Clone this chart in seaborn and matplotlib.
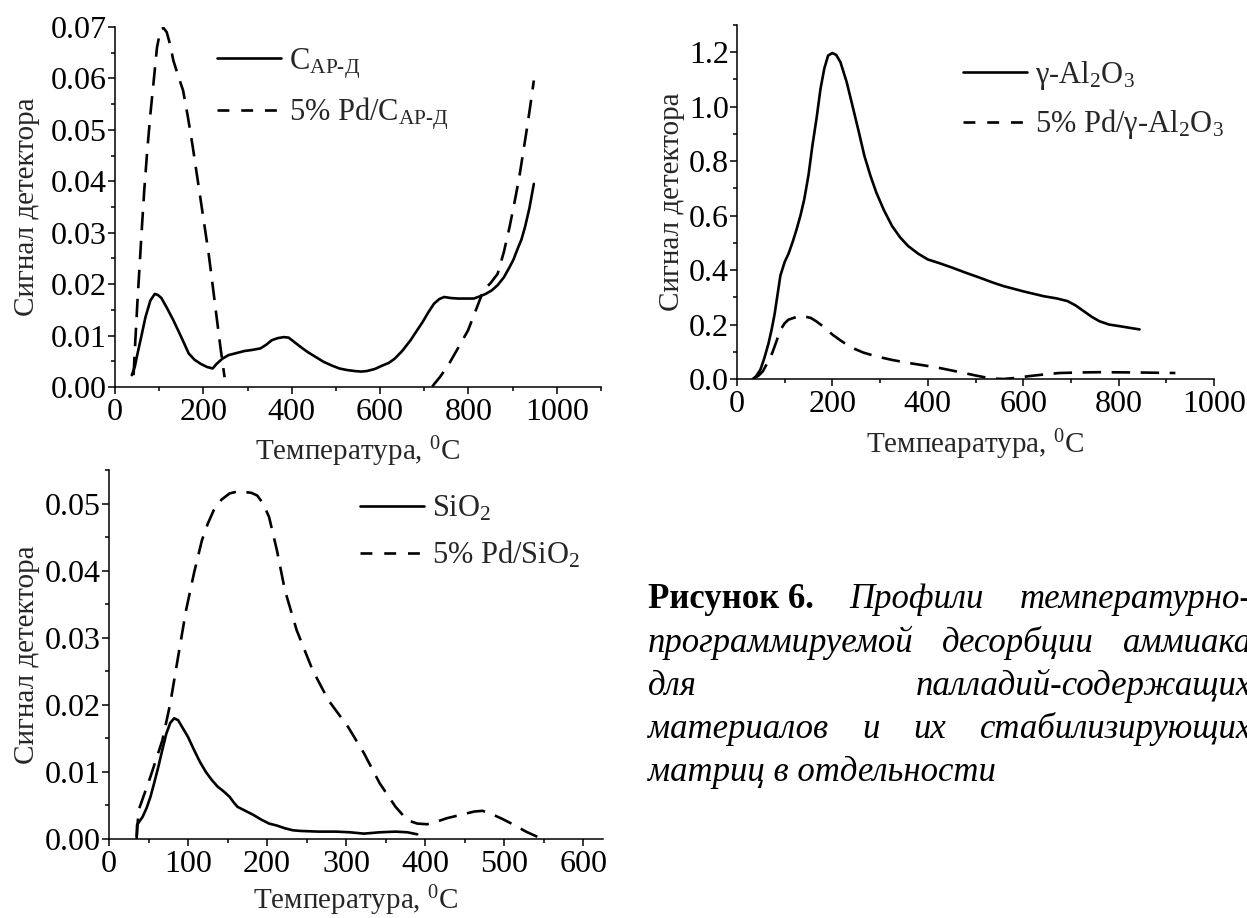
import numpy as np
import pandas as pd
import matplotlib
matplotlib.use("Agg")
import matplotlib.pyplot as plt
import seaborn as sns
from matplotlib.lines import Line2D
from matplotlib.ticker import MultipleLocator, FormatStrFormatter

# ---------------- data ----------------
# Panel 1: C_AP-D and 5% Pd/C_AP-D
c_x = [38, 45, 51, 60, 69, 80, 90, 97, 105, 118, 132, 150, 167, 180, 194, 208, 221,
       230, 243, 257, 275, 293, 310, 329, 342, 355, 368, 382, 393, 405, 420, 436,
       455, 472, 490, 508, 525, 543, 557, 570, 588, 606, 620, 633, 650, 669, 682,
       696, 709, 722, 734, 745, 760, 776, 795, 812, 825, 839, 853, 866, 880, 893,
       902, 910, 920, 928, 938, 948]
c_y = [0.0023, 0.0040, 0.0065, 0.0100, 0.0136, 0.0168, 0.0181, 0.0179, 0.0173,
       0.0153, 0.0130, 0.0097, 0.0065, 0.0053, 0.0045, 0.0039, 0.0036, 0.0045,
       0.0055, 0.0062, 0.0066, 0.0070, 0.0072, 0.0075, 0.0082, 0.0091, 0.0095,
       0.0097, 0.0096, 0.0088, 0.0078, 0.0068, 0.0058, 0.0049, 0.0042, 0.0036,
       0.0033, 0.0031, 0.0030, 0.0031, 0.0035, 0.0042, 0.0047, 0.0055, 0.0070,
       0.0091, 0.0108, 0.0126, 0.0145, 0.0162, 0.0171, 0.0175, 0.0173, 0.0172,
       0.0172, 0.0172, 0.0176, 0.0181, 0.0188, 0.0198, 0.0213, 0.0233, 0.0248,
       0.0266, 0.0287, 0.0311, 0.0348, 0.0395]
pdc1_x = [42, 46, 51, 56, 60, 66, 73, 80, 87, 95, 103, 110, 117, 125, 132, 143, 154,
          165, 176, 185, 194, 203, 212, 221, 230, 239, 248]
pdc1_y = [0.0023, 0.0090, 0.0169, 0.0240, 0.0298, 0.0380, 0.0460, 0.0530, 0.0590,
          0.0660, 0.0695, 0.0698, 0.0690, 0.0665, 0.0635, 0.0605, 0.0577, 0.0525,
          0.0467, 0.0415, 0.0363, 0.0311, 0.0259, 0.0198, 0.0136, 0.0075, 0.0019]
pdc2_x = [718, 736, 754, 776, 799, 817, 834, 850, 866, 880, 893, 904, 915, 924, 933,
          941, 948]
pdc2_y = [0.0001, 0.0020, 0.0042, 0.0075, 0.0110, 0.0150, 0.0188, 0.0202, 0.0220,
          0.0262, 0.0311, 0.0358, 0.0408, 0.0457, 0.0506, 0.0553, 0.0596]

# Panel 2: gamma-Al2O3 and 5% Pd/gamma-Al2O3
al_x = [33, 40, 49, 57, 66, 73, 79, 85, 91, 100, 108, 117, 125, 133, 141, 150, 158,
        167, 175, 183, 191, 200, 208, 217, 230, 242, 255, 267, 280, 292, 308, 325,
        342, 359, 380, 400, 425, 451, 480, 509, 535, 559, 600, 643, 670, 693, 710,
        727, 744, 760, 780, 802, 823, 844]
al_y = [0.0, 0.010, 0.034, 0.075, 0.130, 0.185, 0.240, 0.310, 0.380, 0.430, 0.460,
        0.505, 0.550, 0.600, 0.660, 0.750, 0.856, 0.960, 1.065, 1.140, 1.188, 1.197,
        1.190, 1.163, 1.090, 1.004, 0.910, 0.820, 0.745, 0.685, 0.620, 0.562, 0.520,
        0.488, 0.460, 0.439, 0.425, 0.409, 0.390, 0.372, 0.355, 0.341, 0.322, 0.304,
        0.296, 0.286, 0.270, 0.249, 0.228, 0.212, 0.200, 0.194, 0.188, 0.182]
pdal_x = [37, 45, 54, 64, 74, 83, 91, 100, 108, 125, 141, 155, 166, 183, 200, 220,
          242, 265, 292, 325, 359, 392, 426, 451, 476, 500, 526, 545, 559, 585, 610,
          640, 676, 720, 760, 840, 919]
pdal_y = [0.004, 0.012, 0.028, 0.060, 0.096, 0.140, 0.180, 0.205, 0.218, 0.228,
          0.230, 0.224, 0.212, 0.190, 0.163, 0.138, 0.114, 0.097, 0.083, 0.070,
          0.059, 0.050, 0.040, 0.031, 0.022, 0.013, 0.004, 0.001, 0.0, 0.004, 0.010,
          0.016, 0.022, 0.024, 0.025, 0.024, 0.022]

# Panel 3: SiO2 and 5% Pd/SiO2
si_x = [35, 35.5, 42.5, 47.5, 52.5, 57.5, 62.5, 67.5, 72.5, 77.5, 82.5, 87.5, 92.5,
        100, 107.5, 115, 122.5, 130, 137.5, 145, 152.5, 157.5, 162.5, 172.5, 182.5,
        192.5, 202.5, 212.5, 222.5, 232.5, 242.5, 265, 287.5, 305, 322.5, 342.5,
        362.5, 377.5, 390]
si_y = [0.0, 0.0021, 0.0033, 0.0046, 0.0063, 0.0085, 0.0108, 0.0133, 0.0157, 0.0173,
        0.0180, 0.0177, 0.0167, 0.0152, 0.0133, 0.0115, 0.0100, 0.0088, 0.0078,
        0.0071, 0.0063, 0.0055, 0.0048, 0.0042, 0.0036, 0.0029, 0.0023, 0.0020,
        0.0016, 0.0013, 0.0012, 0.0011, 0.0011, 0.0010, 0.0008, 0.0010, 0.0011,
        0.0010, 0.0007]
pdsi_x = [35, 37.5, 45, 52.5, 60, 67.5, 77.5, 87.5, 97.5, 107.5, 117.5, 125, 132.5,
          142.5, 152.5, 162.5, 172.5, 180, 187.5, 195, 202.5, 212.5, 222.5, 237.5,
          257.5, 277.5, 302.5, 322.5, 342.5, 362.5, 377.5, 390, 402.5, 415, 427.5,
          445, 462.5, 472.5, 482.5, 497.5, 512.5, 527.5, 542.5]
pdsi_y = [0.0003, 0.0043, 0.0068, 0.0093, 0.0120, 0.0147, 0.0202, 0.0272, 0.0341,
          0.0396, 0.0445, 0.0470, 0.0490, 0.0506, 0.0515, 0.0518, 0.0517, 0.0516,
          0.0512, 0.0500, 0.0480, 0.0430, 0.0371, 0.0311, 0.0252, 0.0207, 0.0167,
          0.0128, 0.0083, 0.0048, 0.0028, 0.0023, 0.0022, 0.0026, 0.0031, 0.0036,
          0.0041, 0.0042, 0.0038, 0.0030, 0.0021, 0.0011, 0.0003]

# labels
ylabel = "Сигнал детектора"
xlabel_1 = "Температура, $^{0}$C"
xlabel_2 = "Темпеаратура, $^{0}$C"
leg1 = ["C$_{\\text{АР-Д}}$", "5% Pd/C$_{\\text{АР-Д}}$"]
leg2 = ["γ-Al$_2$O$_3$", "5% Pd/γ-Al$_2$O$_3$"]
leg3 = ["SiO$_2$", "5% Pd/SiO$_2$"]
caption_lines = [
    [("Рисунок 6.", "bold", "normal"),
     ("Профили", "normal", "italic"), ("температурно-", "normal", "italic")],
    [("программируемой", "normal", "italic"), ("десорбции", "normal", "italic"),
     ("аммиака", "normal", "italic")],
    [("для", "normal", "italic"), ("палладий-содержащих", "normal", "italic")],
    [("материалов", "normal", "italic"), ("и", "normal", "italic"),
     ("их", "normal", "italic"), ("стабилизирующих", "normal", "italic")],
    [("матриц в отдельности", "normal", "italic")],
]

# ---------------- style ----------------
sns.set_style("ticks")
plt.rcParams["font.family"] = ["Liberation Serif", "DejaVu Serif"]
plt.rcParams["mathtext.fontset"] = "custom"
plt.rcParams["mathtext.rm"] = "Liberation Serif"
plt.rcParams["mathtext.it"] = "Liberation Serif:italic"
plt.rcParams["mathtext.bf"] = "Liberation Serif:bold"
plt.rcParams["mathtext.default"] = "rm"

W, H = 1247, 918
fig = plt.figure(figsize=(W / 100, H / 100), dpi=100)
fig.patch.set_facecolor("white")


def axes_px(left, top, right, bottom):
    return fig.add_axes([left / W, 1 - bottom / H, (right - left) / W, (bottom - top) / H])


LW = 1.9
DASH = (7, 4)
LEG_DASH = (4.5, 4.5)
TICK_FS = 23
LAB_FS = 21
LEG_FS = 22


def draw(ax, x, y, dashed):
    df = pd.DataFrame({"T": x, "S": y})
    sns.lineplot(data=df, x="T", y="S", ax=ax, color="black", linewidth=LW,
                 estimator=None, sort=False, legend=False)
    line = ax.get_lines()[-1]
    if dashed:
        line.set_dashes(DASH)
    line.set_solid_joinstyle("round")
    line.set_dash_capstyle("butt")


def style(ax, xlim, ylim, xmaj, xmin, ymaj, ymin, yfmt, xlab, xpad, ylab_x):
    ax.set_xlim(*xlim)
    ax.set_ylim(*ylim)
    ax.xaxis.set_major_locator(MultipleLocator(xmaj))
    ax.xaxis.set_minor_locator(MultipleLocator(xmin))
    ax.yaxis.set_major_locator(MultipleLocator(ymaj))
    ax.yaxis.set_minor_locator(MultipleLocator(ymin))
    ax.yaxis.set_major_formatter(FormatStrFormatter(yfmt))
    sns.despine(ax=ax)
    for s in ["left", "bottom"]:
        ax.spines[s].set_linewidth(1.1)
        ax.spines[s].set_color("black")
    ax.tick_params(which="major", direction="out", length=5, width=1.1,
                   labelsize=TICK_FS, colors="black")
    ax.tick_params(which="minor", direction="out", length=3, width=1.1, colors="black")
    ax.tick_params(axis="y", which="major", pad=1)
    ax.tick_params(axis="x", which="major", pad=3)
    ax.set_xlabel(xlab, fontsize=LAB_FS, labelpad=xpad)
    ax.set_ylabel(ylabel, fontsize=LAB_FS)
    ax.yaxis.set_label_coords(ylab_x, 0.5)
    ax.set_facecolor("white")


def legend(ax, labels, fx, fy):
    handles = [Line2D([], [], color="black", lw=LW),
               Line2D([], [], color="black", lw=LW, dashes=LEG_DASH)]
    ax.legend(handles, labels, loc="upper left", bbox_to_anchor=(fx / W, 1 - fy / H),
              bbox_transform=fig.transFigure, frameon=False, fontsize=LEG_FS,
              handlelength=2.1, handletextpad=0.25, borderpad=0, borderaxespad=0,
              labelspacing=0.5)


# Panel 1
ax1 = axes_px(115, 27, 601, 387)
draw(ax1, c_x, c_y, False)
draw(ax1, pdc1_x, pdc1_y, True)
draw(ax1, pdc2_x, pdc2_y, True)
style(ax1, (0, 1100), (0, 0.07), 200, 100, 0.01, 0.005, "%.2f", xlabel_1, 5, -0.155)
legend(ax1, leg1, 217, 46)

# Panel 2
ax2 = axes_px(737, 25, 1214, 379)
draw(ax2, al_x, al_y, False)
draw(ax2, pdal_x, pdal_y, True)
style(ax2, (0, 1000), (0, 1.3), 200, 100, 0.2, 0.1, "%.1f", xlabel_2, 6, -0.11)
legend(ax2, leg2, 963, 59)

# Panel 3
ax3 = axes_px(109, 470, 603, 839)
draw(ax3, si_x, si_y, False)
draw(ax3, pdsi_x, pdsi_y, True)
style(ax3, (0, 625), (0, 0.055), 100, 50, 0.01, 0.005, "%.2f", xlabel_1, 3, -0.14)
legend(ax3, leg3, 360, 494)

# Caption (justified block, right side cut by the figure edge)
CAP_FS = 25
CAP_L, CAP_R = 648, 1252
baselines = [608, 652, 695, 738, 781]
fig.canvas.draw()
renderer = fig.canvas.get_renderer()
for li, (yb, words) in enumerate(zip(baselines, caption_lines)):
    texts = []
    for txt, wt, st in words:
        t = fig.text(0, 1 - yb / H, txt, fontsize=CAP_FS, fontweight=wt, fontstyle=st,
                     ha="left", va="baseline", color="black")
        texts.append(t)
    widths = [t.get_window_extent(renderer).width for t in texts]
    if len(texts) > 1:
        gap = (CAP_R - CAP_L - sum(widths)) / (len(texts) - 1)
    else:
        gap = 0
    x = CAP_L
    for t, w in zip(texts, widths):
        t.set_x(x / W)
        x += w + gap

fig.savefig("out.png", dpi=100, facecolor="white")
